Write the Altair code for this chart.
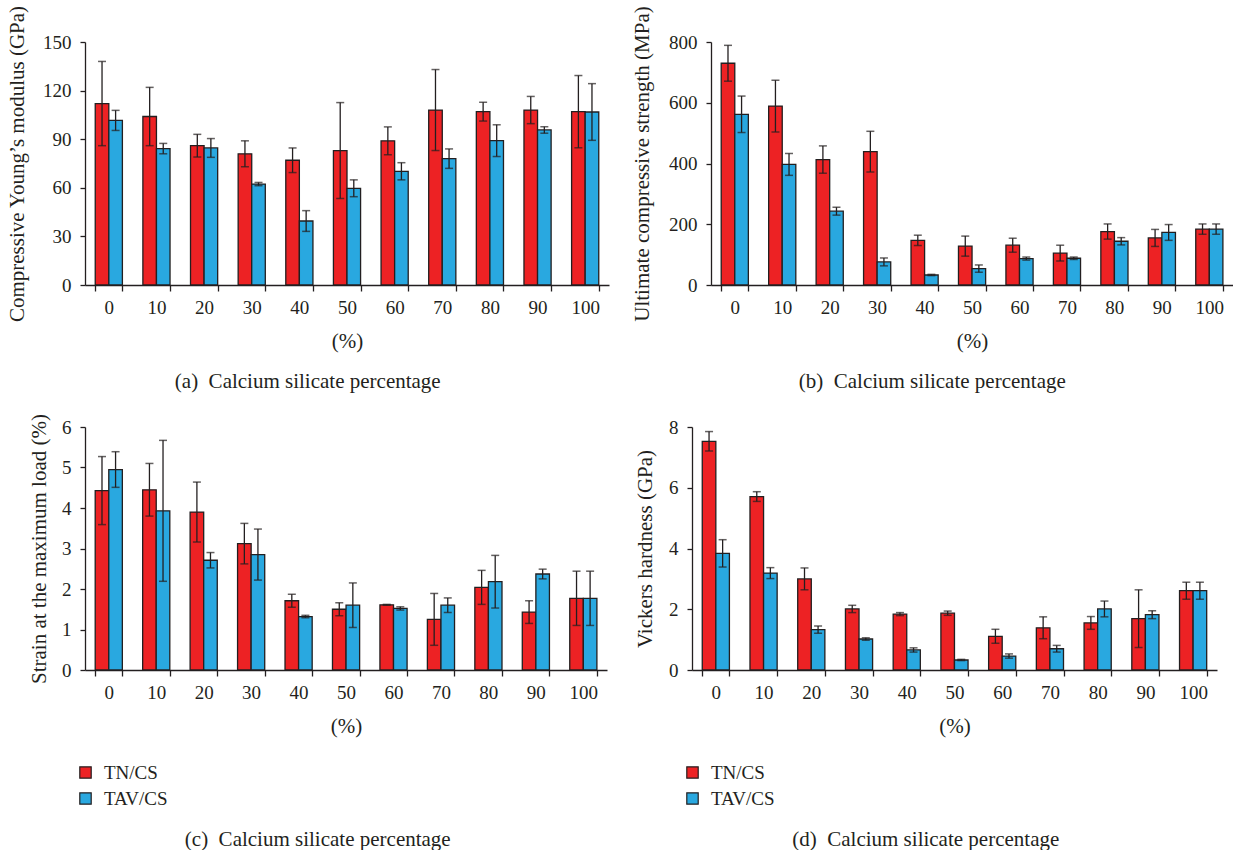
import altair as alt
import pandas as pd

cats = ["0", "10", "20", "30", "40", "50", "60", "70", "80", "90", "100"]
series = ["TN/CS", "TAV/CS"]
colors = ["#ED2224", "#29A8E0"]

# (a) Compressive Young's modulus (GPa)
ym_tn = [112, 104, 86, 81, 77, 83, 89, 108, 107, 108, 107]
ym_tn_err = [26, 18, 7, 8, 7.6, 29.6, 8.6, 25, 5.8, 8.4, 22.3]
ym_tav = [101.6, 84.2, 84.6, 62.3, 39.5, 59.7, 70.2, 78, 89.1, 95.7, 106.8]
ym_tav_err = [6.2, 3.2, 5.8, 1.0, 6.4, 5.2, 5.3, 6.0, 9.8, 2.0, 17.5]

# (b) Ultimate compressive strength (MPa)
ucs_tn = [730, 589, 413, 439, 147, 128, 131, 105, 176, 155, 184]
ucs_tn_err = [59, 85, 45, 67, 17, 33, 23, 26, 25, 28, 17]
ucs_tav = [562, 397, 243, 76, 33, 54, 87, 88, 144, 173, 184]
ucs_tav_err = [60, 36, 13, 13, 2, 12, 5, 4, 12, 26, 17]

# (c) Strain at the maximum load (%)
st_tn = [4.43, 4.45, 3.90, 3.12, 1.71, 1.50, 1.61, 1.25, 2.04, 1.43, 1.77]
st_tn_err = [0.84, 0.65, 0.74, 0.50, 0.16, 0.16, 0.01, 0.64, 0.42, 0.28, 0.67]
st_tav = [4.95, 3.93, 2.71, 2.85, 1.32, 1.60, 1.52, 1.60, 2.18, 2.37, 1.77]
st_tav_err = [0.44, 1.74, 0.19, 0.63, 0.03, 0.55, 0.04, 0.18, 0.65, 0.12, 0.67]

# (d) Vickers hardness (GPa)
vh_tn = [7.53, 5.71, 3.00, 2.01, 1.84, 1.87, 1.11, 1.39, 1.55, 1.69, 2.61]
vh_tn_err = [0.32, 0.16, 0.36, 0.12, 0.05, 0.07, 0.23, 0.36, 0.21, 0.95, 0.28]
vh_tav = [3.84, 3.19, 1.33, 1.02, 0.66, 0.33, 0.46, 0.70, 2.01, 1.82, 2.61]
vh_tav_err = [0.45, 0.18, 0.12, 0.04, 0.07, 0.02, 0.07, 0.11, 0.26, 0.13, 0.28]

FONT = "Liberation Serif"
TXT = "#231f20"
DARK = "#231f20"
TICK_FS = 19
TITLE_FS = 21


def make_df(tn, tn_err, tav, tav_err):
    rows = []
    for s, vals, errs in ((series[0], tn, tn_err), (series[1], tav, tav_err)):
        for c, v, e in zip(cats, vals, errs):
            rows.append({"cat": c, "series": s, "value": v, "lo": v - e, "hi": v + e})
    return pd.DataFrame(rows)


def panel(df, ytitle, ymax, ystep, caption, legend, width, ytitle_pad, height=243):
    xenc = alt.X(
        "cat:N",
        sort=cats,
        scale=alt.Scale(paddingInner=0.43, paddingOuter=0.215),
        axis=alt.Axis(
            title="(%)",
            tickBand="extent",
            labelAngle=0,
            labelFont=FONT,
            labelFontSize=TICK_FS,
            labelColor=TXT,
            labelPadding=7,
            titleFont=FONT,
            titleFontSize=TITLE_FS,
            titleFontWeight="normal",
            titleColor=TXT,
            titlePadding=13,
            domainColor=DARK,
            domainWidth=1.3,
            tickColor=DARK,
            tickWidth=1.3,
            tickSize=6,
        ),
    )
    xoff = alt.XOffset("series:N", sort=series, scale=alt.Scale(paddingInner=0, paddingOuter=0))
    yscale = alt.Scale(domain=[0, ymax], nice=False)
    base = alt.Chart(df).encode(x=xenc, xOffset=xoff)
    if legend:
        leg = alt.Legend(
            title=None,
            orient="none",
            legendX=-9,
            legendY=336,
            symbolType="square",
            symbolSize=130,
            symbolStrokeColor=DARK,
            symbolStrokeWidth=1.2,
            labelFont=FONT,
            labelFontSize=TICK_FS,
            labelColor=TXT,
            labelOffset=9,
            rowPadding=6,
        )
    else:
        leg = None
    bars = base.mark_bar(stroke=DARK, strokeWidth=1.3).encode(
        y=alt.Y(
            "value:Q",
            scale=yscale,
            axis=alt.Axis(
                title=ytitle,
                values=list(range(0, ymax + 1, ystep)),
                grid=False,
                labelFont=FONT,
                labelFontSize=TICK_FS,
                labelColor=TXT,
                labelPadding=9,
                titleFont=FONT,
                titleFontSize=TITLE_FS,
                titleFontWeight="normal",
                titleColor=TXT,
                titlePadding=ytitle_pad,
                domainColor=DARK,
                domainWidth=1.3,
                tickColor=DARK,
                tickWidth=1.3,
                tickSize=5,
            ),
        ),
        color=alt.Color("series:N", sort=series, scale=alt.Scale(domain=series, range=colors), legend=leg),
    )
    rules = base.mark_rule(color=DARK, strokeWidth=1.3).encode(
        y=alt.Y("lo:Q", scale=yscale), y2="hi:Q"
    )
    cap_lo = base.mark_tick(color=DARK, size=8, thickness=1.5, orient="horizontal").encode(
        y=alt.Y("lo:Q", scale=yscale)
    )
    cap_hi = base.mark_tick(color=DARK, size=8, thickness=1.5, orient="horizontal").encode(
        y=alt.Y("hi:Q", scale=yscale)
    )
    return alt.layer(bars, rules, cap_lo, cap_hi).properties(
        width=width,
        height=height,
        title=alt.TitleParams(
            text=caption,
            orient="bottom",
            anchor="middle",
            frame="bounds",
            font=FONT,
            fontSize=TITLE_FS,
            fontWeight="normal",
            color=TXT,
            offset=20,
        ),
    )


pa = panel(make_df(ym_tn, ym_tn_err, ym_tav, ym_tav_err),
           "Compressive Young\u2019s modulus (GPa)", 150, 30,
           "(a) \u00a0Calcium silicate percentage", False, 524, 15)
pb = panel(make_df(ucs_tn, ucs_tn_err, ucs_tav, ucs_tav_err),
           "Ultimate compressive strength (MPa)", 800, 200,
           "(b) \u00a0Calcium silicate percentage", False, 522, 16)
pc = panel(make_df(st_tn, st_tn_err, st_tav, st_tav_err),
           "Strain at the maximum load (%)", 6, 1,
           "(c) \u00a0Calcium silicate percentage", True, 522, 12)
pd_ = panel(make_df(vh_tn, vh_tn_err, vh_tav, vh_tav_err),
            "Vickers hardness (GPa)", 8, 2,
            "(d) \u00a0Calcium silicate percentage", True, 525, 13)

row1 = alt.hconcat(pa, pb, spacing=22).resolve_scale(color="independent")
row2 = alt.hconcat(pc, pd_, spacing=27).resolve_scale(color="independent")

chart = (
    alt.vconcat(row1, row2, spacing=21)
    .resolve_scale(color="independent")
    .properties(padding={"left": 6, "top": 5, "right": 0, "bottom": 0}, background="white")
    .configure_view(stroke=None)
)

chart.save("out.html", embed_options={"renderer": "svg", "actions": False})
